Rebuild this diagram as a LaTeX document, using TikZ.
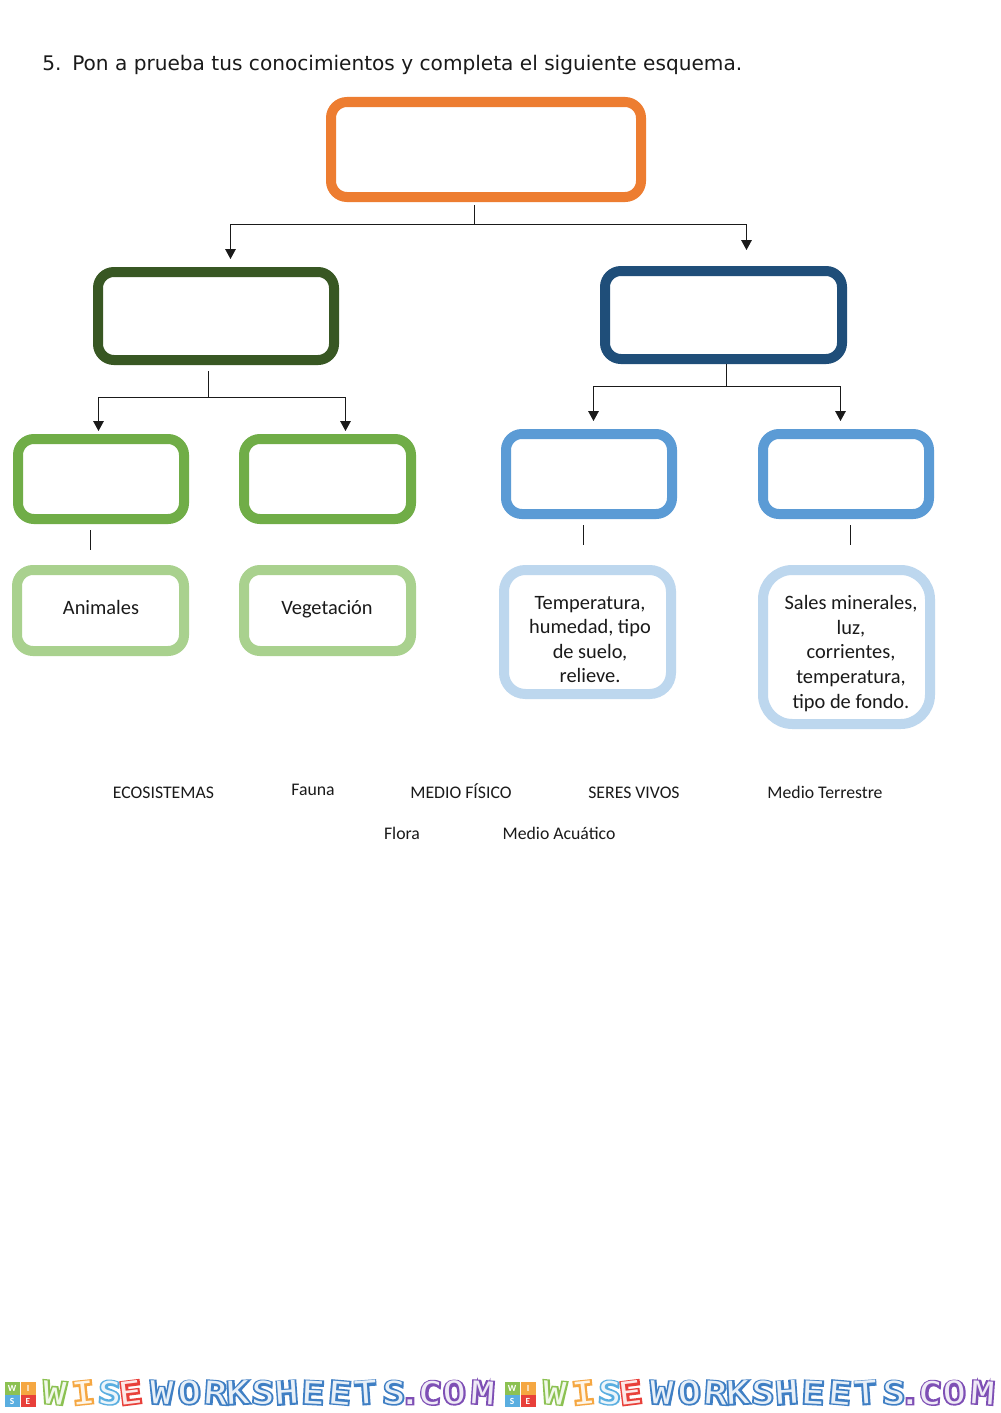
\documentclass[tikz,border=0pt]{standalone}
\usepackage{fontspec}
\usetikzlibrary{arrows.meta}
\setmainfont{Carlito}
\newfontfamily\titlefont{DejaVu Sans}
\newfontfamily\wmfont[FakeBold=8,FakeStretch=1.25]{DejaVu Sans Mono Bold}
\newfontfamily\wminner[FakeStretch=1.2]{DejaVu Sans Mono}
\definecolor{corange}{HTML}{ED7D31}
\definecolor{cdgreen}{HTML}{385723}
\definecolor{cdblue}{HTML}{1F4E79}
\definecolor{cgreen}{HTML}{70AD47}
\definecolor{cblue}{HTML}{5B9BD5}
\definecolor{clgreen}{HTML}{A9D18E}
\definecolor{clblue}{HTML}{BDD7EE}
\definecolor{ctext}{HTML}{1A1A1A}
\definecolor{wgreen}{HTML}{8CC152}
\definecolor{worange}{HTML}{F5A742}
\definecolor{wsky}{HTML}{5AAEE0}
\definecolor{wred}{HTML}{E8403A}
\definecolor{wblue}{HTML}{3F7FC4}
\definecolor{wpurple}{HTML}{7E4FB5}
\tikzset{
  x=0.75pt,y=-0.75pt,
  box/.style={draw=#1,line width=7.5pt,rounded corners=12pt,fill=white,outer sep=0pt,inner sep=0pt},
  conn/.style={draw=ctext,line width=0.65pt},
  arrowconn/.style={conn,-{Triangle[length=7.5pt,width=8pt]}},
  boxtext/.style={font=\fontsize{15.3}{18.4}\selectfont,text=ctext,align=center,inner sep=0pt},
  wordtext/.style={font=\fontsize{13.3}{15}\selectfont,text=ctext,inner sep=0pt,anchor=base},
  wmo/.style={font=\wmfont\fontsize{23.5}{23.5}\selectfont,text=#1,inner sep=0pt},
  wmi/.style={font=\wminner\fontsize{23.5}{23.5}\selectfont,text=#1!12,inner sep=0pt},
  tile/.style={fill=#1,draw=none,minimum width=11.25pt,minimum height=9.4pt,inner sep=0pt,outer sep=0pt,font=\bfseries\fontsize{7}{7}\selectfont,text=white},
}
\newcommand{\bx}[6]{% name, colour, x1, y1, x2, y2 (outer edges)
  \node[box=#2,minimum width={(#5-#3-10)*0.75pt},minimum height={(#6-#4-10)*0.75pt}] (#1) at ({(#3+#5)/2},{(#4+#6)/2}) {};}
\begin{document}
\begin{tikzpicture}
\useasboundingbox (0,0) rectangle (1000,1413);
\fill[white] (0,0) rectangle (1000,1413);

\node[anchor=base west,inner sep=0pt,font=\titlefont\fontsize{15.08}{18}\selectfont,text=ctext] (num) at (42,70) {5.};
\node[anchor=base west,inner sep=0pt,font=\titlefont\fontsize{15.08}{18}\selectfont,text=ctext] (title) at (72,70) {Pon a prueba tus conocimientos y completa el siguiente esquema.};

\bx{root}{corange}{326}{97}{646}{202}
\bx{seres}{cdgreen}{93}{267}{339}{365}
\bx{medio}{cdblue}{600}{266}{847}{364}
\bx{g1}{cgreen}{13}{434}{189}{524}
\bx{g2}{cgreen}{239}{434}{416}{524}
\bx{b1}{cblue}{501}{429}{677}{519}
\bx{b2}{cblue}{758}{429}{934}{519}
\bx{lg1}{clgreen}{12}{565}{189}{656}
\bx{lg2}{clgreen}{239}{565}{416}{656}
\node[box=clblue,rounded corners=16pt,minimum width={167*0.75pt},minimum height={124*0.75pt}] (lb1) at (587.5,632) {};
\node[box=clblue,rounded corners=22pt,minimum width={167*0.75pt},minimum height={154*0.75pt}] (lb2) at (846.5,647) {};

\node[boxtext] (tanimales) at (101,607) {Animales};
\node[boxtext] (tvegetacion) at (327,609) {Vegetación};
\node[boxtext] (ttemp) at (590,639.5) {Temperatura,\\humedad, tipo\\de suelo,\\relieve.};
\node[boxtext] (tsales) at (851,653.5) {Sales minerales,\\luz,\\corrientes,\\temperatura,\\tipo de fondo.};

% connectors
\coordinate (r0) at (474.5,205); \coordinate (r1) at (474.5,224.5);
\coordinate (ra) at (230.5,259); \coordinate (rb) at (746.5,250);
\draw[conn] (r0) -- (r1);
\draw[arrowconn] (r1) -| (ra);
\draw[arrowconn] (r1) -| (rb);

\coordinate (s0) at (208.5,371); \coordinate (s1) at (208.5,397.5);
\coordinate (sa) at (98.5,431); \coordinate (sb) at (345.5,431);
\draw[conn] (s0) -- (s1);
\draw[arrowconn] (s1) -| (sa);
\draw[arrowconn] (s1) -| (sb);

\coordinate (m0) at (726.5,364); \coordinate (m1) at (726.5,386.5);
\coordinate (ma) at (593.5,421); \coordinate (mb) at (840.5,421);
\draw[conn] (m0) -- (m1);
\draw[arrowconn] (m1) -| (ma);
\draw[arrowconn] (m1) -| (mb);

\coordinate (t1a) at (90.5,530); \coordinate (t1b) at (90.5,550);
\coordinate (t2a) at (583.5,525); \coordinate (t2b) at (583.5,545);
\coordinate (t3a) at (850.5,525); \coordinate (t3b) at (850.5,545);
\draw[conn] (t1a) -- (t1b);
\draw[conn] (t2a) -- (t2b);
\draw[conn] (t3a) -- (t3b);

% word bank
\node[wordtext] (w1) at (163.5,798.5) {ECOSISTEMAS};
\node[wordtext] (w2) at (313,795) {Fauna};
\node[wordtext] (w3) at (461,798.5) {MEDIO FÍSICO};
\node[wordtext] (w4) at (634,798.5) {SERES VIVOS};
\node[wordtext] (w5) at (825,798.5) {Medio Terrestre};
\node[wordtext] (w6) at (402,839.5) {Flora};
\node[wordtext] (w7) at (559,839.5) {Medio Acuático};

% watermark
\foreach \ox in {0,500}{
  \begin{scope}[shift={(\ox,0)}]
    \node[tile=wgreen] (tw\ox) at (12,1388.5) {W};
    \node[tile=worange] (ti\ox) at (28,1388.5) {I};
    \node[tile=wsky] (ts\ox) at (12,1401) {S};
    \node[tile=wred] (te\ox) at (28,1401) {E};
    \foreach \cx/\lt/\cc/\rr in {53.5/W/wgreen/-5,84.5/I/worange/6,109/S/wsky/-4,132/E/wred/7,
      161/W/wblue/-3,190/O/wblue/3,215/R/wblue/-4,238.5/K/wblue/3,262.5/S/wblue/-3,287.5/H/wblue/4,312.5/E/wblue/-3,339/E/wblue/-5,366.5/T/wblue/4,393.5/S/wblue/-3,410/./wpurple/0,429.5/C/wpurple/-4,455/O/wpurple/3,482/M/wpurple/-4}{
      \node[wmo=\cc,anchor=base,rotate=\rr] at (\cx,1404) {\lt};
      \node[wmi=\cc,anchor=base,rotate=\rr] at (\cx,1404) {\lt};
    }
  \end{scope}
}
\end{tikzpicture}
\end{document}
